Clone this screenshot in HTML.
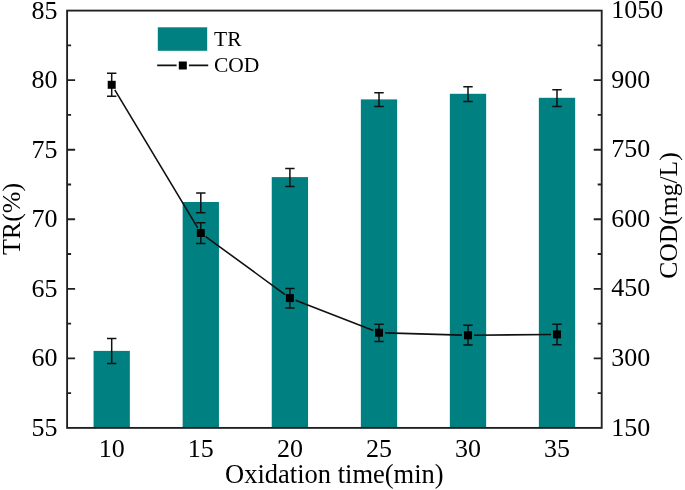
<!DOCTYPE html>
<html><head><meta charset="utf-8"><title>TR and COD vs oxidation time</title>
<style>html,body{margin:0;padding:0;background:#fff}svg{display:block}text{font-family:"Liberation Serif","Times New Roman",serif;fill:#000}</style></head><body>
<svg width="685" height="490" viewBox="0 0 685 490">
<rect width="685" height="490" fill="#fff"/>
<rect x="93.55" y="350.90" width="36.30" height="77.00" fill="#008080"/>
<rect x="182.65" y="202.00" width="36.30" height="225.90" fill="#008080"/>
<rect x="271.75" y="177.10" width="36.30" height="250.80" fill="#008080"/>
<rect x="360.85" y="99.40" width="36.30" height="328.50" fill="#008080"/>
<rect x="449.85" y="93.80" width="36.30" height="334.10" fill="#008080"/>
<rect x="538.85" y="97.80" width="36.30" height="330.10" fill="#008080"/>
<rect x="67.1" y="10.6" width="534.60" height="417.30" fill="none" stroke="#202020" stroke-width="1.85"/>
<path d="M67.1 45.38h4M601.7 45.38h-4M67.1 80.15h8M601.7 80.15h-8M67.1 114.92h4M601.7 114.92h-4M67.1 149.70h8M601.7 149.70h-8M67.1 184.47h4M601.7 184.47h-4M67.1 219.25h8M601.7 219.25h-8M67.1 254.02h4M601.7 254.02h-4M67.1 288.80h8M601.7 288.80h-8M67.1 323.57h4M601.7 323.57h-4M67.1 358.35h8M601.7 358.35h-8M67.1 393.12h4M601.7 393.12h-4" stroke="#202020" stroke-width="1.85" fill="none"/>
<path d="M111.70 338.6V363.4M107.00 338.6h9.4M107.00 363.4h9.4M200.80 193.1V212.7M196.10 193.1h9.4M196.10 212.7h9.4M289.90 168.6V186.5M285.20 168.6h9.4M285.20 186.5h9.4M379.00 92.7V106.6M374.30 92.7h9.4M374.30 106.6h9.4M468.00 86.8V101.5M463.30 86.8h9.4M463.30 101.5h9.4M557.00 89.8V106.6M552.30 89.8h9.4M552.30 106.6h9.4M111.70 73.3V96.3M107.00 73.3h9.4M107.00 96.3h9.4M200.80 222.8V243.5M196.10 222.8h9.4M196.10 243.5h9.4M289.90 288.4V308.0M285.20 288.4h9.4M285.20 308.0h9.4M379.00 324.3V341.6M374.30 324.3h9.4M374.30 341.6h9.4M468.00 325.2V345.0M463.30 325.2h9.4M463.30 345.0h9.4M557.00 324.3V344.7M552.30 324.3h9.4M552.30 344.7h9.4" stroke="#111" stroke-width="1.5" fill="none"/>
<path d="M114.79 89.94L197.71 227.86M205.64 236.54L285.06 294.56M295.49 300.27L373.41 330.53M385.00 332.88L462.00 335.12M474.00 335.24L551.00 334.46" stroke="#111" stroke-width="1.6" fill="none"/>
<rect x="107.70" y="80.80" width="8" height="8" fill="#000"/>
<rect x="196.80" y="229.00" width="8" height="8" fill="#000"/>
<rect x="285.90" y="294.10" width="8" height="8" fill="#000"/>
<rect x="375.00" y="328.70" width="8" height="8" fill="#000"/>
<rect x="464.00" y="331.30" width="8" height="8" fill="#000"/>
<rect x="553.00" y="330.40" width="8" height="8" fill="#000"/>
<rect x="157.8" y="27.3" width="49.4" height="23.5" fill="#008080"/>
<path d="M157.2 65.4H176.6M188.9 65.4H208.2" stroke="#111" stroke-width="1.6" fill="none"/>
<rect x="178.8" y="61.5" width="8" height="8" fill="#000"/>
<text x="214" y="46.4" font-size="21.5">TR</text>
<text x="214" y="72.3" font-size="21.5">COD</text>
<text x="57.6" y="18.50" font-size="26" text-anchor="end">85</text>
<text x="57.6" y="88.05" font-size="26" text-anchor="end">80</text>
<text x="57.6" y="157.60" font-size="26" text-anchor="end">75</text>
<text x="57.6" y="227.15" font-size="26" text-anchor="end">70</text>
<text x="57.6" y="296.70" font-size="26" text-anchor="end">65</text>
<text x="57.6" y="366.25" font-size="26" text-anchor="end">60</text>
<text x="57.6" y="435.80" font-size="26" text-anchor="end">55</text>
<text x="611.3" y="18.20" font-size="26">1050</text>
<text x="611.3" y="87.75" font-size="26">900</text>
<text x="611.3" y="157.30" font-size="26">750</text>
<text x="611.3" y="226.85" font-size="26">600</text>
<text x="611.3" y="296.40" font-size="26">450</text>
<text x="611.3" y="365.95" font-size="26">300</text>
<text x="611.3" y="435.50" font-size="26">150</text>
<text x="111.70" y="457.1" font-size="26" text-anchor="middle">10</text>
<text x="200.80" y="457.1" font-size="26" text-anchor="middle">15</text>
<text x="289.90" y="457.1" font-size="26" text-anchor="middle">20</text>
<text x="379.00" y="457.1" font-size="26" text-anchor="middle">25</text>
<text x="468.00" y="457.1" font-size="26" text-anchor="middle">30</text>
<text x="557.00" y="457.1" font-size="26" text-anchor="middle">35</text>
<text x="334.35" y="483.4" font-size="26.5" text-anchor="middle">Oxidation time(min)</text>
<text transform="translate(20.4 219) rotate(-90)" font-size="26" text-anchor="middle">TR(%)</text>
<text transform="translate(677.3 215.5) rotate(-90)" font-size="25.6" text-anchor="middle">COD(mg/L)</text>
</svg></body></html>
